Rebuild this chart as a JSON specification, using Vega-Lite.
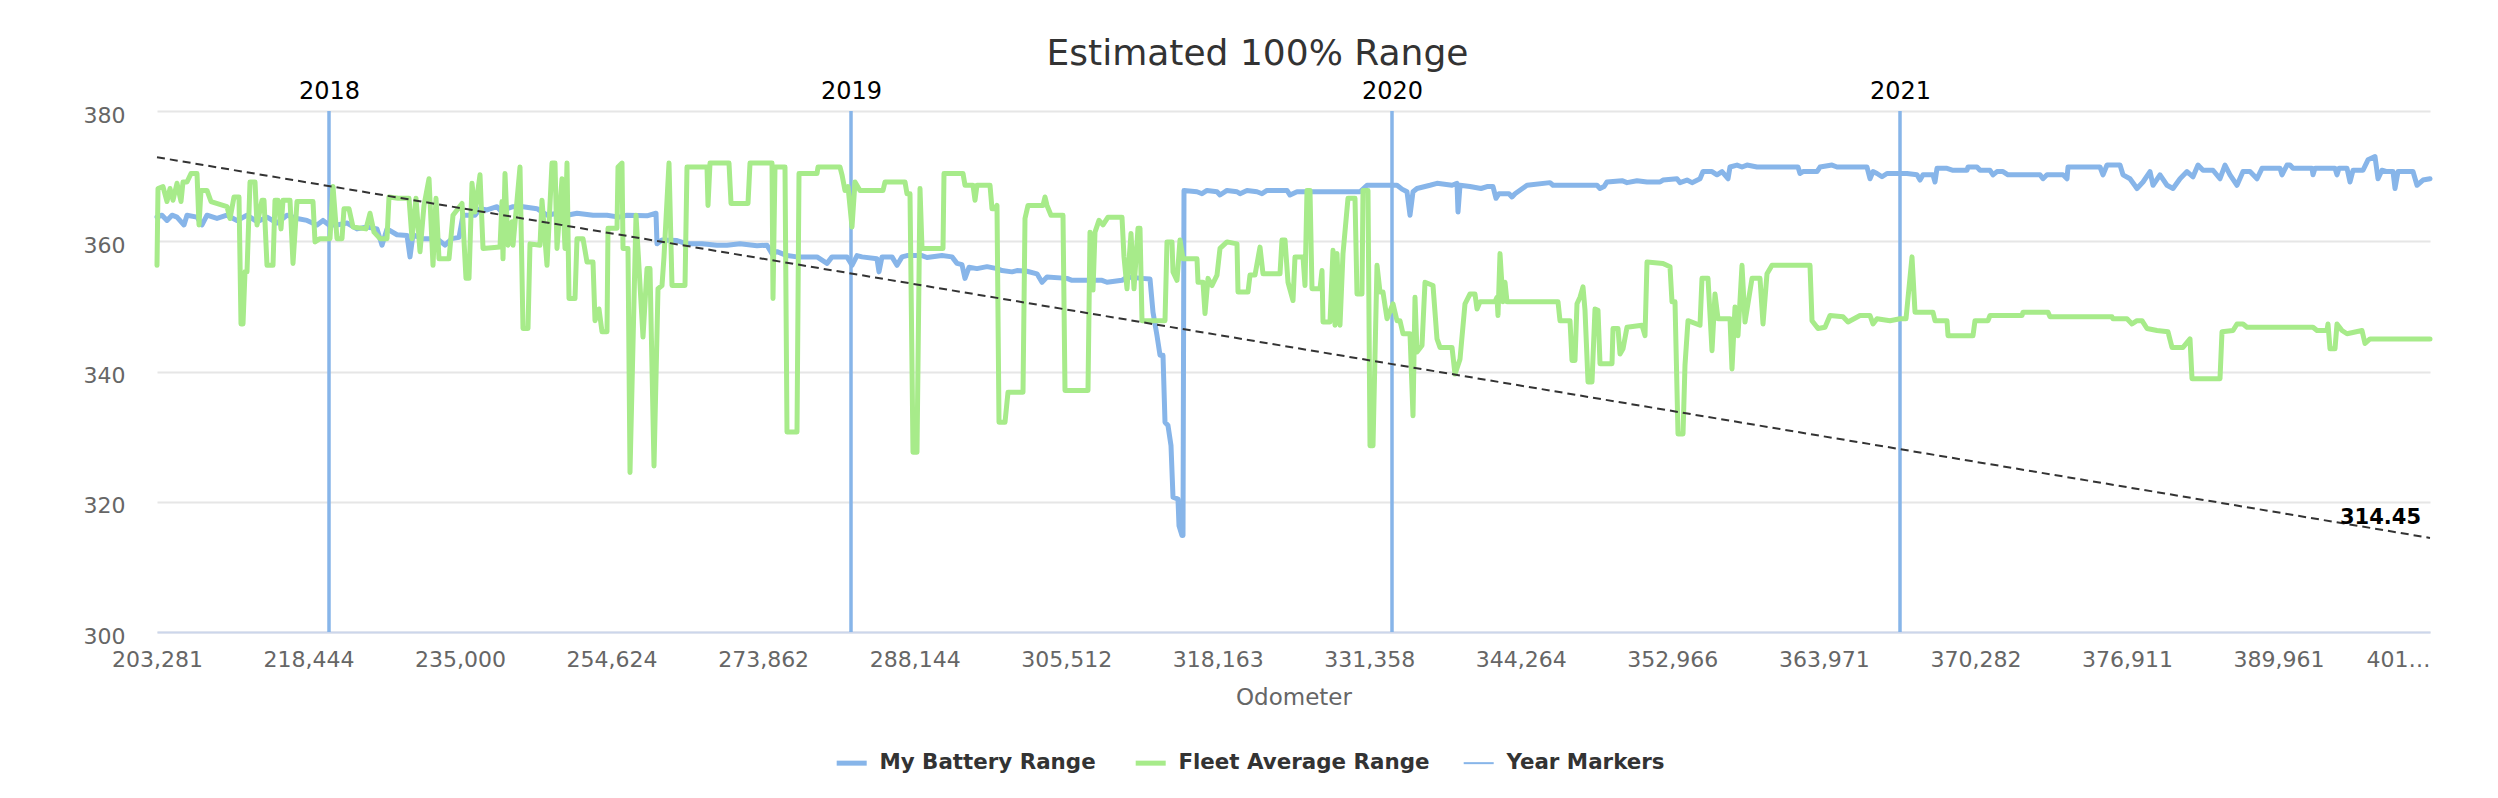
{
  "$schema": "https://vega.github.io/schema/vega-lite/v6.json",
  "width": 2273,
  "height": 521,
  "autosize": {"type": "none"},
  "padding": {"left": 157, "top": 111, "right": 68, "bottom": 166},
  "background": "white",
  "title": {
    "text": "Estimated 100% Range",
    "fontSize": 36,
    "fontWeight": "normal",
    "color": "#333333",
    "anchor": "middle",
    "frame": "group",
    "dx": -36,
    "offset": 6
  },
  "datasets": {
    "years": [
      {"n": 172, "year": "2018"},
      {"n": 694, "year": "2019"},
      {"n": 1235, "year": "2020"},
      {"n": 1743, "year": "2021"}
    ],
    "trend": [
      {"n": 0, "v": 372.9},
      {"n": 2273, "v": 314.45}
    ],
    "battery": [
      {"n":0,"v":363.7},{"n":5,"v":364.0},{"n":10,"v":363.2},{"n":15,"v":364.0},{"n":20,"v":363.7},{"n":27,"v":362.5},{"n":30,"v":364.0},{"n":40,"v":363.7},{"n":45,"v":362.5},{"n":50,"v":364.0},
      {"n":60,"v":363.5},{"n":70,"v":364.0},{"n":80,"v":363.2},{"n":90,"v":364.0},{"n":100,"v":363.0},{"n":110,"v":363.7},{"n":120,"v":362.8},{"n":130,"v":364.0},{"n":140,"v":363.5},{"n":150,"v":363.2},
      {"n":160,"v":362.5},{"n":166,"v":363.2},{"n":172,"v":362.5},{"n":180,"v":362.5},{"n":190,"v":362.8},{"n":200,"v":361.9},{"n":210,"v":362.2},{"n":220,"v":361.9},{"n":225,"v":359.4},{"n":230,"v":361.9},
      {"n":240,"v":361.0},{"n":250,"v":360.9},{"n":253,"v":357.6},{"n":256,"v":361.0},{"n":265,"v":360.4},{"n":280,"v":360.4},{"n":288,"v":359.4},{"n":295,"v":360.4},{"n":302,"v":360.6},{"n":306,"v":364.0},
      {"n":318,"v":364.0},{"n":323,"v":365.0},{"n":330,"v":364.8},{"n":340,"v":365.3},{"n":346,"v":364.3},{"n":350,"v":365.0},{"n":356,"v":365.3},{"n":366,"v":365.3},{"n":380,"v":365.0},{"n":390,"v":364.0},
      {"n":400,"v":364.3},{"n":410,"v":364.0},{"n":420,"v":364.3},{"n":436,"v":364.0},{"n":450,"v":364.0},{"n":462,"v":363.7},{"n":470,"v":364.0},{"n":490,"v":363.9},{"n":499,"v":364.3},{"n":500,"v":359.6},
      {"n":505,"v":360.2},{"n":520,"v":360.1},{"n":530,"v":359.6},{"n":545,"v":359.6},{"n":560,"v":359.4},{"n":570,"v":359.4},{"n":583,"v":359.6},{"n":600,"v":359.3},{"n":610,"v":359.4},{"n":615,"v":358.1},
      {"n":620,"v":358.4},{"n":630,"v":357.8},{"n":640,"v":357.6},{"n":650,"v":357.6},{"n":660,"v":357.6},{"n":670,"v":356.6},{"n":675,"v":357.6},{"n":690,"v":357.6},{"n":695,"v":356.3},{"n":700,"v":357.8},
      {"n":705,"v":357.6},{"n":720,"v":357.3},{"n":722,"v":355.3},{"n":725,"v":357.6},{"n":735,"v":357.6},{"n":740,"v":356.3},{"n":745,"v":357.6},{"n":750,"v":357.8},{"n":765,"v":357.8},{"n":770,"v":357.5},
      {"n":785,"v":357.8},{"n":795,"v":357.6},{"n":800,"v":356.6},{"n":805,"v":356.4},{"n":808,"v":354.3},{"n":812,"v":356.0},{"n":820,"v":355.8},{"n":830,"v":356.1},{"n":840,"v":355.8},{"n":845,"v":355.5},
      {"n":855,"v":355.3},{"n":860,"v":355.5},{"n":870,"v":355.4},{"n":880,"v":355.0},{"n":885,"v":353.7},{"n":890,"v":354.5},{"n":910,"v":354.3},{"n":915,"v":354.0},{"n":945,"v":354.0},{"n":950,"v":353.7},
      {"n":965,"v":354.0},{"n":970,"v":354.5},{"n":985,"v":354.3},{"n":993,"v":354.2},{"n":996,"v":349.1},{"n":1000,"v":345.5},{"n":1003,"v":342.5},{"n":1006,"v":342.5},{"n":1008,"v":332.2},{"n":1011,"v":331.7},
      {"n":1014,"v":328.6},{"n":1016,"v":320.7},{"n":1021,"v":320.4},{"n":1022,"v":316.3},{"n":1025,"v":314.8},{"n":1026,"v":314.8},{"n":1027,"v":367.8},{"n":1040,"v":367.6},{"n":1045,"v":367.3},{"n":1050,"v":367.8},
      {"n":1060,"v":367.6},{"n":1063,"v":367.1},{"n":1070,"v":367.8},{"n":1080,"v":367.6},{"n":1083,"v":367.3},{"n":1090,"v":367.8},{"n":1100,"v":367.6},{"n":1105,"v":367.3},{"n":1110,"v":367.8},{"n":1130,"v":367.8},
      {"n":1133,"v":367.1},{"n":1140,"v":367.6},{"n":1160,"v":367.6},{"n":1180,"v":367.6},{"n":1203,"v":367.6},{"n":1210,"v":368.6},{"n":1240,"v":368.6},{"n":1245,"v":368.0},{"n":1250,"v":367.6},{"n":1253,"v":364.0},
      {"n":1256,"v":367.6},{"n":1260,"v":368.1},{"n":1273,"v":368.6},{"n":1280,"v":368.9},{"n":1295,"v":368.6},{"n":1300,"v":368.9},{"n":1301,"v":364.5},{"n":1303,"v":368.6},{"n":1313,"v":368.4},{"n":1324,"v":368.1},
      {"n":1330,"v":368.4},{"n":1336,"v":368.4},{"n":1339,"v":366.6},{"n":1342,"v":367.3},{"n":1352,"v":367.3},{"n":1355,"v":366.8},{"n":1358,"v":367.3},{"n":1370,"v":368.6},{"n":1393,"v":369.0},{"n":1396,"v":368.6},
      {"n":1440,"v":368.6},{"n":1443,"v":368.1},{"n":1447,"v":368.4},{"n":1450,"v":369.1},{"n":1465,"v":369.3},{"n":1470,"v":369.0},{"n":1480,"v":369.3},{"n":1490,"v":369.1},{"n":1503,"v":369.1},{"n":1506,"v":369.4},
      {"n":1520,"v":369.6},{"n":1523,"v":369.0},{"n":1530,"v":369.4},{"n":1535,"v":369.0},{"n":1543,"v":369.6},{"n":1546,"v":370.7},{"n":1555,"v":370.7},{"n":1560,"v":370.2},{"n":1565,"v":370.7},{"n":1571,"v":369.6},
      {"n":1573,"v":371.4},{"n":1580,"v":371.7},{"n":1585,"v":371.4},{"n":1590,"v":371.7},{"n":1600,"v":371.4},{"n":1641,"v":371.4},{"n":1643,"v":370.4},{"n":1646,"v":370.7},{"n":1660,"v":370.7},{"n":1663,"v":371.4},
      {"n":1675,"v":371.7},{"n":1680,"v":371.4},{"n":1710,"v":371.4},{"n":1713,"v":369.6},{"n":1716,"v":370.7},{"n":1720,"v":370.4},{"n":1725,"v":369.9},{"n":1730,"v":370.4},{"n":1750,"v":370.4},{"n":1760,"v":370.2},
      {"n":1763,"v":369.4},{"n":1766,"v":370.2},{"n":1776,"v":370.2},{"n":1778,"v":369.1},{"n":1780,"v":371.2},{"n":1790,"v":371.2},{"n":1796,"v":370.9},{"n":1810,"v":370.9},{"n":1811,"v":371.4},{"n":1820,"v":371.4},
      {"n":1823,"v":370.9},{"n":1833,"v":370.9},{"n":1836,"v":370.2},{"n":1840,"v":370.7},{"n":1846,"v":370.7},{"n":1851,"v":370.2},{"n":1883,"v":370.2},{"n":1886,"v":369.6},{"n":1890,"v":370.2},{"n":1906,"v":370.2},
      {"n":1910,"v":369.6},{"n":1911,"v":371.4},{"n":1943,"v":371.4},{"n":1946,"v":370.2},{"n":1950,"v":371.7},{"n":1963,"v":371.7},{"n":1966,"v":370.2},{"n":1973,"v":369.6},{"n":1980,"v":368.1},{"n":1986,"v":369.1},
      {"n":1993,"v":370.7},{"n":1996,"v":368.6},{"n":2003,"v":370.2},{"n":2010,"v":368.6},{"n":2016,"v":368.1},{"n":2023,"v":369.6},{"n":2030,"v":370.7},{"n":2036,"v":369.9},{"n":2041,"v":371.7},{"n":2046,"v":370.9},
      {"n":2056,"v":370.9},{"n":2063,"v":369.6},{"n":2068,"v":371.7},{"n":2073,"v":370.2},{"n":2080,"v":368.6},{"n":2086,"v":370.7},{"n":2093,"v":370.7},{"n":2100,"v":369.6},{"n":2105,"v":371.2},{"n":2123,"v":371.2},
      {"n":2125,"v":370.2},{"n":2130,"v":371.7},{"n":2133,"v":371.7},{"n":2136,"v":371.2},{"n":2155,"v":371.2},{"n":2156,"v":370.2},{"n":2158,"v":371.2},{"n":2178,"v":371.2},{"n":2180,"v":370.2},{"n":2182,"v":371.2},
      {"n":2190,"v":371.2},{"n":2193,"v":369.1},{"n":2196,"v":370.9},{"n":2206,"v":370.9},{"n":2211,"v":372.5},{"n":2218,"v":373.0},{"n":2221,"v":369.6},{"n":2225,"v":370.9},{"n":2230,"v":370.7},{"n":2236,"v":370.7},
      {"n":2238,"v":368.1},{"n":2241,"v":370.7},{"n":2256,"v":370.7},{"n":2260,"v":368.6},{"n":2266,"v":369.4},{"n":2273,"v":369.6}
    ],
    "fleet": [
      {"n":0,"v":356.3},{"n":1,"v":368.1},{"n":6,"v":368.4},{"n":10,"v":366.1},{"n":13,"v":368.1},{"n":16,"v":366.3},{"n":20,"v":368.9},{"n":24,"v":366.1},{"n":26,"v":369.1},{"n":30,"v":369.1},
      {"n":34,"v":370.4},{"n":40,"v":370.4},{"n":42,"v":362.5},{"n":44,"v":367.8},{"n":50,"v":367.8},{"n":54,"v":366.1},{"n":70,"v":365.3},{"n":73,"v":363.5},{"n":77,"v":366.8},{"n":82,"v":366.8},
      {"n":84,"v":347.3},{"n":86,"v":347.3},{"n":88,"v":355.3},{"n":90,"v":355.3},{"n":93,"v":369.1},{"n":98,"v":369.1},{"n":100,"v":362.5},{"n":105,"v":366.3},{"n":107,"v":366.3},{"n":110,"v":356.3},
      {"n":116,"v":356.3},{"n":118,"v":366.3},{"n":121,"v":366.3},{"n":124,"v":361.9},{"n":126,"v":366.3},{"n":133,"v":366.3},{"n":136,"v":356.6},{"n":140,"v":366.1},{"n":156,"v":366.1},{"n":158,"v":359.9},
      {"n":163,"v":360.4},{"n":173,"v":360.4},{"n":176,"v":368.4},{"n":180,"v":360.4},{"n":185,"v":360.4},{"n":187,"v":365.0},{"n":192,"v":365.0},{"n":196,"v":362.2},{"n":209,"v":361.9},{"n":213,"v":364.3},
      {"n":217,"v":361.4},{"n":223,"v":360.4},{"n":230,"v":360.4},{"n":232,"v":366.8},{"n":241,"v":366.6},{"n":252,"v":366.6},{"n":255,"v":360.4},{"n":259,"v":366.6},{"n":263,"v":358.4},{"n":267,"v":365.5},
      {"n":272,"v":369.6},{"n":276,"v":356.3},{"n":279,"v":366.6},{"n":282,"v":357.3},{"n":292,"v":357.3},{"n":296,"v":364.0},{"n":305,"v":365.8},{"n":309,"v":354.3},{"n":312,"v":354.3},{"n":315,"v":368.9},
      {"n":318,"v":364.5},{"n":323,"v":370.2},{"n":326,"v":358.9},{"n":343,"v":359.1},{"n":345,"v":366.1},{"n":346,"v":357.3},{"n":348,"v":370.4},{"n":351,"v":359.4},{"n":355,"v":363.0},{"n":356,"v":359.4},
      {"n":363,"v":371.4},{"n":366,"v":346.6},{"n":371,"v":346.6},{"n":373,"v":359.6},{"n":383,"v":359.4},{"n":385,"v":366.3},{"n":390,"v":356.3},{"n":395,"v":372.0},{"n":398,"v":372.0},{"n":400,"v":358.9},
      {"n":405,"v":369.6},{"n":408,"v":358.9},{"n":410,"v":372.0},{"n":412,"v":351.2},{"n":418,"v":351.2},{"n":420,"v":360.4},{"n":426,"v":360.4},{"n":430,"v":356.8},{"n":436,"v":356.8},{"n":438,"v":347.8},
      {"n":442,"v":349.6},{"n":445,"v":346.1},{"n":450,"v":346.1},{"n":451,"v":362.0},{"n":460,"v":362.0},{"n":461,"v":371.4},{"n":465,"v":372.0},{"n":466,"v":358.9},{"n":471,"v":358.9},{"n":473,"v":324.5},
      {"n":479,"v":364.0},{"n":486,"v":345.3},{"n":490,"v":355.8},{"n":493,"v":355.8},{"n":497,"v":325.5},{"n":501,"v":352.7},{"n":505,"v":353.2},{"n":507,"v":357.6},{"n":512,"v":372.0},{"n":515,"v":353.2},
      {"n":528,"v":353.2},{"n":530,"v":371.4},{"n":550,"v":371.4},{"n":551,"v":365.5},{"n":553,"v":372.0},{"n":572,"v":372.0},{"n":574,"v":365.8},{"n":591,"v":365.8},{"n":593,"v":372.0},{"n":615,"v":372.0},
      {"n":616,"v":351.2},{"n":618,"v":371.4},{"n":628,"v":371.4},{"n":630,"v":330.7},{"n":640,"v":330.7},{"n":642,"v":370.4},{"n":660,"v":370.4},{"n":661,"v":371.4},{"n":683,"v":371.4},{"n":685,"v":370.2},
      {"n":688,"v":367.8},{"n":691,"v":368.4},{"n":695,"v":362.2},{"n":698,"v":369.1},{"n":703,"v":367.8},{"n":726,"v":367.8},{"n":728,"v":369.1},{"n":748,"v":369.1},{"n":750,"v":367.3},{"n":753,"v":367.3},
      {"n":756,"v":327.6},{"n":760,"v":327.6},{"n":763,"v":368.1},{"n":765,"v":358.9},{"n":786,"v":358.9},{"n":787,"v":370.4},{"n":806,"v":370.4},{"n":808,"v":368.6},{"n":816,"v":368.6},{"n":818,"v":366.3},
      {"n":820,"v":368.6},{"n":833,"v":368.6},{"n":835,"v":365.0},{"n":838,"v":365.0},{"n":840,"v":365.5},{"n":842,"v":332.2},{"n":848,"v":332.2},{"n":851,"v":336.8},{"n":866,"v":336.8},{"n":868,"v":363.5},
      {"n":871,"v":365.5},{"n":886,"v":365.5},{"n":888,"v":366.8},{"n":890,"v":365.5},{"n":894,"v":364.0},{"n":906,"v":364.0},{"n":908,"v":337.1},{"n":931,"v":337.1},{"n":933,"v":361.4},{"n":936,"v":352.5},
      {"n":938,"v":361.4},{"n":942,"v":363.2},{"n":946,"v":362.5},{"n":951,"v":363.7},{"n":965,"v":363.7},{"n":967,"v":357.6},{"n":970,"v":352.7},{"n":974,"v":361.2},{"n":977,"v":352.7},{"n":981,"v":362.0},
      {"n":983,"v":362.0},{"n":985,"v":347.8},{"n":1008,"v":347.8},{"n":1010,"v":359.9},{"n":1015,"v":359.9},{"n":1016,"v":355.3},{"n":1020,"v":354.0},{"n":1023,"v":360.2},{"n":1026,"v":357.3},{"n":1040,"v":357.3},
      {"n":1041,"v":353.7},{"n":1046,"v":353.7},{"n":1048,"v":348.9},{"n":1051,"v":354.3},{"n":1055,"v":353.2},{"n":1060,"v":354.8},{"n":1063,"v":358.9},{"n":1070,"v":359.9},{"n":1080,"v":359.6},{"n":1081,"v":352.2},
      {"n":1091,"v":352.2},{"n":1093,"v":354.8},{"n":1098,"v":354.8},{"n":1103,"v":359.1},{"n":1106,"v":355.0},{"n":1123,"v":355.0},{"n":1125,"v":360.2},{"n":1128,"v":360.2},{"n":1131,"v":353.7},{"n":1136,"v":350.9},
      {"n":1138,"v":357.6},{"n":1146,"v":357.6},{"n":1148,"v":353.2},{"n":1150,"v":367.8},{"n":1153,"v":367.8},{"n":1155,"v":352.7},{"n":1163,"v":352.7},{"n":1165,"v":355.5},{"n":1166,"v":347.6},{"n":1173,"v":347.6},
      {"n":1176,"v":358.6},{"n":1178,"v":347.1},{"n":1180,"v":358.1},{"n":1183,"v":347.1},{"n":1186,"v":358.1},{"n":1191,"v":366.6},{"n":1198,"v":366.6},{"n":1200,"v":351.9},{"n":1205,"v":351.9},{"n":1206,"v":367.8},
      {"n":1211,"v":367.8},{"n":1213,"v":328.6},{"n":1216,"v":328.6},{"n":1220,"v":356.3},{"n":1223,"v":352.2},{"n":1226,"v":352.2},{"n":1230,"v":348.1},{"n":1236,"v":350.4},{"n":1240,"v":347.8},{"n":1243,"v":347.8},
      {"n":1246,"v":345.8},{"n":1253,"v":345.8},{"n":1256,"v":333.2},{"n":1258,"v":351.4},{"n":1260,"v":343.0},{"n":1265,"v":344.0},{"n":1268,"v":353.7},{"n":1276,"v":353.2},{"n":1280,"v":345.0},{"n":1283,"v":343.7},
      {"n":1295,"v":343.7},{"n":1298,"v":339.6},{"n":1303,"v":341.9},{"n":1308,"v":350.4},{"n":1313,"v":351.9},{"n":1318,"v":351.9},{"n":1320,"v":349.6},{"n":1323,"v":350.7},{"n":1338,"v":350.7},{"n":1340,"v":351.4},
      {"n":1341,"v":348.6},{"n":1343,"v":358.1},{"n":1346,"v":350.7},{"n":1348,"v":353.7},{"n":1350,"v":350.7},{"n":1401,"v":350.7},{"n":1403,"v":347.8},{"n":1413,"v":347.8},{"n":1415,"v":341.7},{"n":1418,"v":341.7},
      {"n":1420,"v":350.4},{"n":1423,"v":351.4},{"n":1426,"v":353.0},{"n":1428,"v":349.4},{"n":1431,"v":338.4},{"n":1435,"v":338.4},{"n":1438,"v":349.6},{"n":1441,"v":349.4},{"n":1443,"v":341.2},{"n":1455,"v":341.2},
      {"n":1456,"v":346.6},{"n":1461,"v":346.6},{"n":1463,"v":342.7},{"n":1466,"v":343.5},{"n":1470,"v":346.8},{"n":1485,"v":347.1},{"n":1488,"v":345.5},{"n":1490,"v":356.8},{"n":1506,"v":356.6},{"n":1513,"v":356.1},
      {"n":1515,"v":350.7},{"n":1518,"v":350.7},{"n":1521,"v":330.4},{"n":1526,"v":330.4},{"n":1528,"v":341.0},{"n":1531,"v":347.8},{"n":1543,"v":347.1},{"n":1545,"v":354.3},{"n":1551,"v":354.3},{"n":1555,"v":343.2},
      {"n":1558,"v":351.9},{"n":1561,"v":348.1},{"n":1573,"v":348.1},{"n":1575,"v":340.4},{"n":1578,"v":349.9},{"n":1581,"v":345.5},{"n":1585,"v":356.3},{"n":1588,"v":347.6},{"n":1595,"v":354.3},{"n":1603,"v":354.3},
      {"n":1606,"v":347.3},{"n":1610,"v":355.0},{"n":1615,"v":356.3},{"n":1653,"v":356.3},{"n":1655,"v":347.8},{"n":1661,"v":346.6},{"n":1668,"v":346.8},{"n":1673,"v":348.6},{"n":1686,"v":348.4},{"n":1691,"v":347.6},
      {"n":1703,"v":348.6},{"n":1713,"v":348.6},{"n":1716,"v":347.3},{"n":1720,"v":348.1},{"n":1733,"v":347.8},{"n":1743,"v":348.1},{"n":1749,"v":348.1},{"n":1755,"v":357.6},{"n":1758,"v":349.1},{"n":1776,"v":349.1},
      {"n":1778,"v":347.8},{"n":1790,"v":347.8},{"n":1791,"v":345.5},{"n":1803,"v":345.5},{"n":1816,"v":345.5},{"n":1818,"v":347.8},{"n":1831,"v":347.8},{"n":1833,"v":348.6},{"n":1865,"v":348.6},{"n":1866,"v":349.1},
      {"n":1891,"v":349.1},{"n":1893,"v":348.4},{"n":1955,"v":348.4},{"n":1956,"v":348.1},{"n":1970,"v":348.1},{"n":1975,"v":347.3},{"n":1980,"v":347.8},{"n":1985,"v":347.8},{"n":1990,"v":346.6},{"n":2000,"v":346.3},
      {"n":2011,"v":346.1},{"n":2015,"v":343.7},{"n":2026,"v":343.7},{"n":2033,"v":345.0},{"n":2035,"v":338.9},{"n":2063,"v":338.9},{"n":2065,"v":346.1},{"n":2076,"v":346.3},{"n":2080,"v":347.3},{"n":2086,"v":347.3},
      {"n":2090,"v":346.8},{"n":2156,"v":346.8},{"n":2160,"v":346.3},{"n":2170,"v":346.3},{"n":2171,"v":347.3},{"n":2173,"v":343.5},{"n":2178,"v":343.5},{"n":2180,"v":347.3},{"n":2185,"v":346.3},{"n":2190,"v":345.8},
      {"n":2205,"v":346.3},{"n":2208,"v":344.3},{"n":2213,"v":345.0},{"n":2273,"v":345.0}
    ]
  },
  "layer": [
    {
      "data": {"name": "years"},
      "mark": {"type": "rule", "strokeWidth": 3.5},
      "encoding": {
        "x": {
          "field": "n",
          "type": "quantitative",
          "scale": {"domain": [0, 2273], "nice": false, "zero": false},
          "axis": {
            "orient": "top",
            "values": [172, 694, 1235, 1743],
            "labelExpr": "datum.value < 400 ? '2018' : datum.value < 1000 ? '2019' : datum.value < 1500 ? '2020' : '2021'",
            "title": null,
            "domain": false,
            "ticks": false,
            "grid": false,
            "labelFontSize": 24,
            "labelColor": "#000000",
            "labelPadding": 8,
            "labelFlush": false
          }
        },
        "color": {
          "datum": "Year Markers",
          "type": "nominal",
          "scale": {
            "domain": ["My Battery Range", "Fleet Average Range", "Year Markers"],
            "range": ["#87b5e9", "#a7eb8a", "#87b5e9"]
          },
          "legend": {
            "orient": "none",
            "legendX": 684,
            "legendY": 641,
            "direction": "horizontal",
            "title": null,
            "symbolType": "stroke",
            "symbolSize": 900,
            "symbolStrokeWidth": 5,
            "labelFontSize": 21.4,
            "labelFontWeight": "bold",
            "labelColor": "#333333",
            "labelOffset": 17,
            "columnPadding": 29,
            "labelLimit": 400,
            "encode": {
              "symbols": {
                "update": {
                  "strokeWidth": {"signal": "datum.value === 'Year Markers' ? 2 : 5"}
                }
              }
            }
          }
        }
      }
    },
    {
      "data": {"name": "battery"},
      "mark": {"type": "line", "strokeWidth": 5, "strokeCap": "round", "strokeJoin": "round"},
      "encoding": {
        "x": {
          "field": "n",
          "type": "quantitative",
          "scale": {"domain": [0, 2273], "nice": false, "zero": false},
          "axis": {
            "orient": "bottom",
            "values": [0, 151.53, 303.07, 454.6, 606.13, 757.67, 909.2, 1060.73, 1212.27, 1363.8, 1515.33, 1666.87, 1818.4, 1969.93, 2121.47, 2273],
            "labelExpr": "['203,281','218,444','235,000','254,624','273,862','288,144','305,512','318,163','331,358','344,264','352,966','363,971','370,282','376,911','389,961','401…'][round(datum.value / 151.5333)]",
            "title": "Odometer",
            "titleFontSize": 23,
            "titleFontWeight": "normal",
            "titleColor": "#666666",
            "titlePadding": 16,
            "labelFontSize": 22,
            "labelColor": "#666666",
            "labelPadding": 17,
            "labelFlush": false,
            "labelOverlap": false,
            "labelBound": false,
            "labelAlign": {"condition": {"test": "datum.value > 2200", "value": "right"}, "value": "center"},
            "ticks": false,
            "grid": false,
            "domainColor": "#ccd6eb",
            "domainWidth": 2
          }
        },
        "y": {"field": "v", "type": "quantitative", "title": null, "scale": {"domain": [300, 380], "nice": false, "zero": false}, "axis": {"values": [300, 320, 340, 360, 380]}},
        "color": {"datum": "My Battery Range", "type": "nominal"}
      }
    },
    {
      "data": {"name": "fleet"},
      "mark": {"type": "line", "strokeWidth": 5, "strokeCap": "round", "strokeJoin": "round"},
      "encoding": {
        "x": {"field": "n", "type": "quantitative", "scale": {"domain": [0, 2273], "nice": false, "zero": false}, "axis": null},
        "y": {"field": "v", "type": "quantitative", "title": null, "scale": {"domain": [300, 380], "nice": false, "zero": false}, "axis": {"values": [300, 320, 340, 360, 380]}},
        "color": {"datum": "Fleet Average Range", "type": "nominal"}
      }
    },
    {
      "data": {"name": "trend"},
      "mark": {"type": "line", "strokeWidth": 2, "strokeDash": [8, 5], "color": "#333333"},
      "encoding": {
        "x": {"field": "n", "type": "quantitative", "scale": {"domain": [0, 2273], "nice": false, "zero": false}, "axis": null},
        "y": {"field": "v", "type": "quantitative", "title": null, "scale": {"domain": [300, 380], "nice": false, "zero": false}, "axis": {"values": [300, 320, 340, 360, 380]}}
      }
    },
    {
      "data": {"name": "trend"},
      "transform": [{"filter": "datum.n == 2273"}],
      "mark": {"type": "text", "align": "right", "baseline": "alphabetic", "dx": -9, "dy": -14, "fontSize": 21, "fontWeight": "bold", "color": "#000000"},
      "encoding": {
        "x": {"field": "n", "type": "quantitative", "scale": {"domain": [0, 2273], "nice": false, "zero": false}, "axis": null},
        "y": {"field": "v", "type": "quantitative", "title": null, "scale": {"domain": [300, 380], "nice": false, "zero": false}, "axis": {"values": [300, 320, 340, 360, 380]}},
        "text": {"field": "v", "type": "quantitative", "format": ".2f"}
      }
    }
  ],
  "resolve": {"axis": {"x": "independent"}},
  "config": {
    "font": "DejaVu Sans",
    "view": {"stroke": null},
    "axisY": {
      "grid": true,
      "gridColor": "#e6e6e6",
      "gridWidth": 2,
      "domain": false,
      "ticks": false,
      "labelFontSize": 22,
      "labelColor": "#666666",
      "labelPadding": 32,
      "labelOffset": 4,
      "labelFlush": false
    }
  }
}
